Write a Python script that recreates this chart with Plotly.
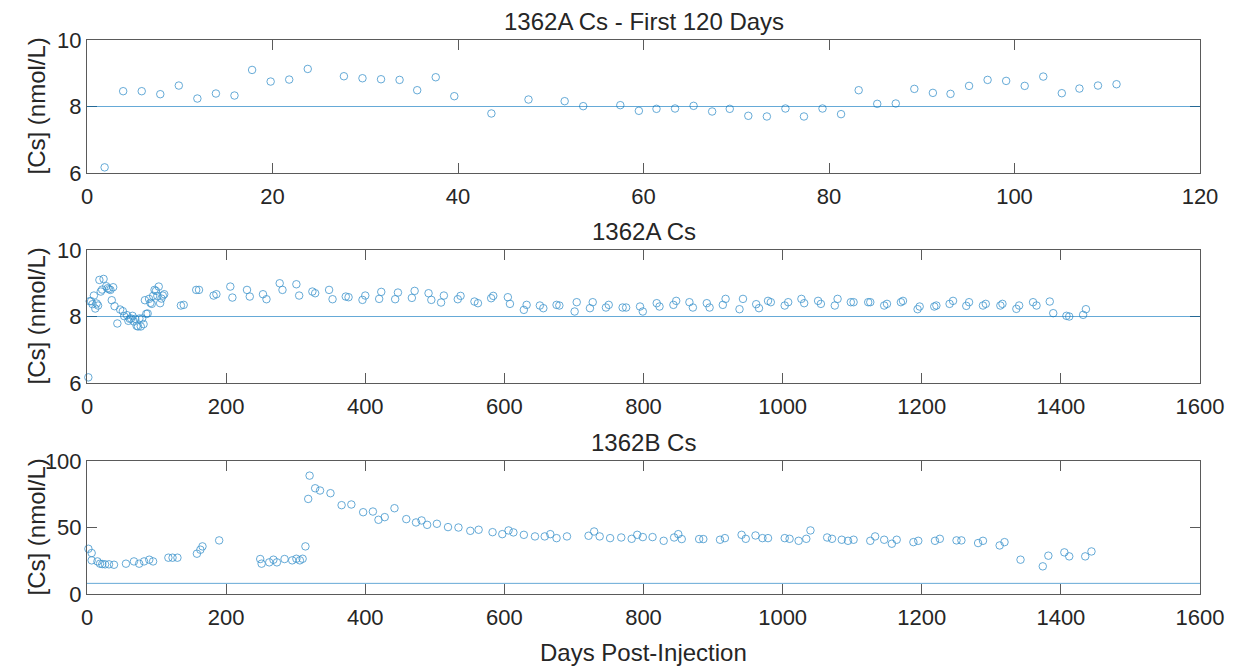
import plotly.graph_objects as go

# ---------------- data ----------------
days_120 = [1.9, 3.9, 5.9, 7.9, 9.9, 11.9, 13.9, 15.9, 17.8, 19.8, 21.8, 23.8, 27.7, 29.7, 31.7,
            33.7, 35.6, 37.6, 39.6, 43.6, 47.6, 51.5, 53.5, 57.5, 59.5, 61.4, 63.4, 65.4, 67.4, 69.3,
            71.3, 73.3, 75.3, 77.3, 79.3, 81.3, 83.2, 85.2, 87.2, 89.2, 91.2, 93.1, 95.1, 97.1, 99.1,
            101.1, 103.1, 105.1, 107.0, 109.0, 111.0]
cs_a_120 = [6.17, 8.46, 8.46, 8.37, 8.63, 8.24, 8.39, 8.33, 9.10, 8.75, 8.81, 9.13, 8.91, 8.85, 8.82,
            8.80, 8.49, 8.88, 8.31, 7.79, 8.21, 8.16, 8.01, 8.04, 7.87, 7.93, 7.94, 8.02, 7.85, 7.93,
            7.72, 7.70, 7.94, 7.70, 7.94, 7.77, 8.49, 8.08, 8.09, 8.53, 8.41, 8.38, 8.62, 8.80, 8.77,
            8.62, 8.90, 8.40, 8.54, 8.63, 8.67]

days_a_late = [135, 139, 157, 161, 182, 186, 206, 209, 230, 234,
               253, 258, 277, 281, 301, 305, 324, 328, 348, 353,
               372, 376, 396, 400, 420, 423, 443, 447, 467, 471,
               491, 495, 509, 513, 533, 537, 557, 562, 581, 584,
               605, 608, 628, 632, 651, 656, 675, 679, 701, 704,
               723, 727, 746, 750, 770, 775, 795, 799, 819, 823,
               843, 847, 866, 871, 891, 895, 914, 918, 938, 943,
               962, 966, 979, 983, 1003, 1008, 1027, 1031, 1051, 1055,
               1075, 1079, 1098, 1102, 1123, 1126, 1146, 1150, 1170, 1173,
               1194, 1197, 1218, 1221, 1240, 1245, 1264, 1268, 1288, 1292,
               1313, 1316, 1336, 1340, 1360, 1365, 1384, 1389, 1408, 1412,
               1432, 1436]
cs_a_late = [8.33, 8.35, 8.8, 8.8, 8.63, 8.67, 8.9, 8.57, 8.8, 8.6,
             8.67, 8.52, 9.0, 8.8, 8.97, 8.63, 8.75, 8.7, 8.8, 8.52,
             8.6, 8.58, 8.5, 8.63, 8.53, 8.74, 8.52, 8.72, 8.56, 8.77,
             8.7, 8.5, 8.42, 8.63, 8.52, 8.62, 8.45, 8.4, 8.55, 8.62,
             8.58, 8.38, 8.2, 8.35, 8.33, 8.25, 8.35, 8.33, 8.15, 8.43,
             8.25, 8.43, 8.27, 8.35, 8.27, 8.27, 8.3, 8.15, 8.4, 8.3,
             8.35, 8.47, 8.43, 8.27, 8.4, 8.27, 8.35, 8.53, 8.22, 8.53,
             8.37, 8.25, 8.47, 8.43, 8.33, 8.43, 8.53, 8.4, 8.47, 8.38,
             8.33, 8.53, 8.43, 8.43, 8.43, 8.43, 8.33, 8.38, 8.43, 8.47,
             8.22, 8.3, 8.3, 8.33, 8.38, 8.47, 8.32, 8.43, 8.33, 8.38,
             8.33, 8.38, 8.23, 8.33, 8.43, 8.33, 8.45, 8.1, 8.02, 8.0,
             8.05, 8.22]

days_b = [2, 6.7, 6.7, 15, 18.7, 22, 26, 31.6, 38.8, 56,
          67.5, 75, 82, 89.5, 95, 117, 123, 130, 158, 163,
          166, 190, 249, 251, 262, 268, 273, 284, 295, 301,
          306, 310, 314, 318, 320, 328, 335, 350, 366, 380,
          397, 411, 419, 428, 442, 459, 473, 481, 489, 503,
          519, 534, 551, 563, 583, 597, 606, 613, 628, 644,
          658, 666, 675, 690, 721, 729, 737, 752, 768, 783,
          791, 799, 813, 829, 844, 850, 855, 880, 886, 910,
          917, 941, 947, 961, 971, 979, 1003, 1010, 1023, 1034,
          1040, 1064, 1071, 1085, 1094, 1102, 1126, 1133, 1146, 1157,
          1164, 1188, 1195, 1219, 1226, 1250, 1257, 1281, 1288, 1312,
          1319, 1342, 1374, 1382, 1405, 1412, 1435, 1444]
cs_b = [34, 30.8, 25.3, 24.5, 22.8, 22.5, 22.3, 22.3, 22, 22.8,
        24.5, 22.8, 24.5, 25.8, 24.5, 27.3, 27.3, 27.3, 30.3, 33.3,
        35.8, 40.3, 26.3, 22.8, 23.8, 25.8, 23.8, 26.3, 25.3, 26.5,
        25.3, 26.5, 35.8, 71.5, 89, 79.5, 77.8, 75.8, 66.8, 67.3,
        61.5, 62, 55.8, 57.8, 64.5, 56.3, 53.8, 55.3, 52, 52.8,
        50.3, 50, 47.5, 48.3, 46.5, 45, 47.8, 46.3, 44.5, 43.3,
        43.3, 45, 42, 43.3, 43.8, 47, 43.3, 42, 42.5, 41.5,
        44.5, 42.8, 42.8, 40, 42.5, 45, 41.3, 41.3, 41.3, 40.8,
        42, 44.5, 41.5, 44, 42, 42, 42, 41.5, 40, 41.5,
        47.8, 42.5, 41.5, 40.8, 40, 40.8, 40, 43.3, 40.8, 37.8,
        40.8, 39, 40, 40, 41.5, 40.3, 40.3, 38.3, 40, 36.5,
        39, 25.8, 20.8, 28.8, 31.3, 28.3, 28.3, 32]

ref_level = 8
titles = ["1362A Cs - First 120 Days", "1362A Cs", "1362B Cs"]
x_ranges = [[0, 120], [0, 1600], [0, 1600]]
y_ranges = [[6, 10], [6, 10], [0, 100]]
x_ticks = [[0, 20, 40, 60, 80, 100, 120], [0, 200, 400, 600, 800, 1000, 1200, 1400, 1600],
           [0, 200, 400, 600, 800, 1000, 1200, 1400, 1600]]
y_ticks = [[6, 8, 10], [6, 8, 10], [0, 50, 100]]
y_label = "[Cs] (nmol/L)"
x_label = "Days Post-Injection"

# ---------------- figure ----------------
W, H = 1236, 667
ML, MR, MT, MB = 87, 36, 40, 73
PH = H - MT - MB
panel_px = [(40, 173), (250, 383), (461, 594)]  # top, bottom pixel rows
domains = [[(594 - b) / PH, (594 - t) / PH] for t, b in panel_px]

BLUE = "#0072BD"
TXT = "#262626"
FONT = "Liberation Sans, Arial, Helvetica, sans-serif"

series = [
    (days_120, cs_a_120),
    (days_120 + days_a_late, cs_a_120 + cs_a_late),
    (days_b, cs_b),
]

fig = go.Figure()
for i, (xs, ys) in enumerate(series):
    n = "" if i == 0 else str(i + 1)
    fig.add_trace(go.Scatter(
        x=xs, y=ys, mode="markers", xaxis="x" + n, yaxis="y" + n, cliponaxis=False,
        marker=dict(symbol="circle-open", size=7.5, color=BLUE, line=dict(width=0.8, color=BLUE)),
        opacity=0.75, showlegend=False, hoverinfo="x+y"))
    fig.add_shape(type="line", xref="x" + n + " domain", yref="y" + n,
                  x0=0, x1=1, y0=ref_level, y1=ref_level,
                  line=dict(color="rgba(0,114,189,0.6)", width=1))

    axis_common = dict(showline=True, linecolor="#5a5a5a", linewidth=1, mirror="ticks",
                       ticks="inside", ticklen=10, tickwidth=1, tickcolor="#5a5a5a",
                       showgrid=False, zeroline=False,
                       tickfont=dict(family=FONT, size=22, color=TXT))
    fig.layout["xaxis" + n] = dict(axis_common, domain=[0, 1], range=x_ranges[i],
                                   tickvals=x_ticks[i], anchor="y" + n, ticklabelstandoff=4)
    fig.layout["yaxis" + n] = dict(axis_common, domain=domains[i], range=y_ranges[i],
                                   tickvals=y_ticks[i], anchor="x" + n)

    fig.add_annotation(text=titles[i], xref="paper", yref="paper", x=0.5,
                       y=domains[i][1], yanchor="bottom", yshift=3, showarrow=False,
                       font=dict(family=FONT, size=24, color=TXT))
    fig.add_annotation(text=y_label, xref="paper", yref="paper",
                       x=(36 - ML) / (W - ML - MR), y=(domains[i][0] + domains[i][1]) / 2,
                       xanchor="center", yanchor="middle", textangle=-90, showarrow=False,
                       font=dict(family=FONT, size=24, color=TXT))

fig.add_annotation(text=x_label, xref="paper", yref="paper", x=0.5,
                   y=-(652 - 594) / PH, xanchor="center", yanchor="middle", showarrow=False,
                   font=dict(family=FONT, size=24, color=TXT))

fig.update_layout(width=W, height=H, margin=dict(l=ML, r=MR, t=MT, b=MB, autoexpand=False),
                  paper_bgcolor="white", plot_bgcolor="white")

fig.write_html("out.html")
